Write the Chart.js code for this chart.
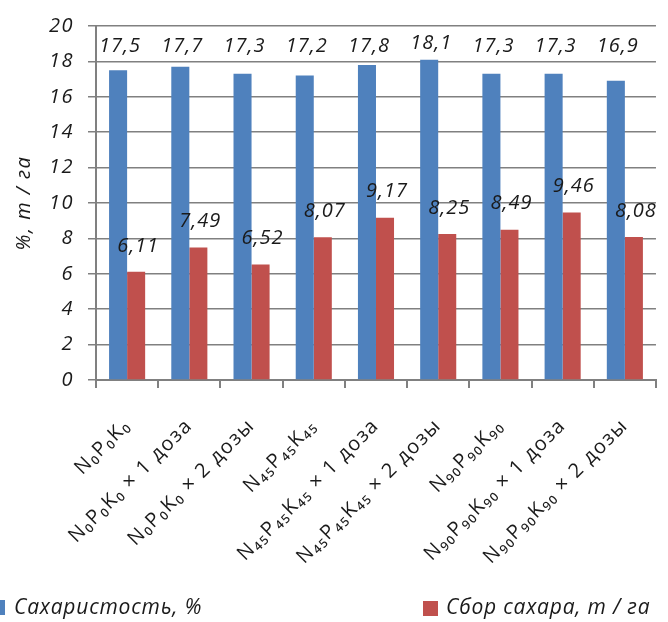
<!DOCTYPE html>
<html>
<head>
<meta charset="utf-8">
<script src="https://cdn.jsdelivr.net/npm/chart.js@4/dist/chart.umd.min.js"></script>
<style>
  html, body { margin: 0; padding: 0; background: #fff; }
  #wrap { width: 668px; height: 622px; position: relative; }
</style>
</head>
<body>
<div id="wrap"><canvas id="sugarChart"></canvas></div>
<script>
// Данные
const categories = [
  'N₀P₀K₀',
  'N₀P₀K₀ × 1 доза',
  'N₀P₀K₀ × 2 дозы',
  'N₄₅P₄₅K₄₅',
  'N₄₅P₄₅K₄₅ × 1 доза',
  'N₄₅P₄₅K₄₅ × 2 дозы',
  'N₉₀P₉₀K₉₀',
  'N₉₀P₉₀K₉₀ × 1 доза',
  'N₉₀P₉₀K₉₀ × 2 дозы'
];
const sugarContent = [17.5, 17.7, 17.3, 17.2, 17.8, 18.1, 17.3, 17.3, 16.9];
const sugarYield = [6.11, 7.49, 6.52, 8.07, 9.17, 8.25, 8.49, 9.46, 8.08];
const yTicks = [0, 2, 4, 6, 8, 10, 12, 14, 16, 18, 20];
const seriesNames = ['Сахаристость, %', 'Сбор сахара, т / га'];

const BLUE = '#4f81bd';
const RED = '#c0504d';
const GRID = '#808080';
const TEXT = '#1a1a1a';
const FONT = '"Open Sans", "DejaVu Sans", sans-serif';

// межбуквенный интервал для всего текста на холсте
const spacingPlugin = {
  id: 'spacing',
  beforeLayout(chart) { chart.ctx.letterSpacing = '1.5px'; },
  beforeDraw(chart) { chart.ctx.letterSpacing = '1.5px'; }
};

// подписи значений над столбцами
const valueLabels = {
  id: 'valueLabels',
  afterDatasetsDraw(chart) {
    const ctx = chart.ctx;
    const y = chart.scales.y;
    ctx.save();
    ctx.letterSpacing = '1px';
    ctx.font = 'italic 20px ' + FONT;
    ctx.fillStyle = TEXT;
    ctx.textAlign = 'center';
    ctx.textBaseline = 'middle';
    chart.data.datasets.forEach((ds, di) => {
      chart.getDatasetMeta(di).data.forEach((bar, i) => {
        const txt = ds.data[i].toFixed(di === 0 ? 1 : 2).replace('.', ',');
        let ty;
        if (di === 0) {
          ty = Math.min(y.getPixelForValue(18.85), bar.y - 16);
        } else {
          ty = bar.y - 26;
        }
        ctx.fillText(txt, bar.x + 2, ty);
      });
    });
    ctx.restore();
  }
};

// легенда внизу
const bottomLegend = {
  id: 'bottomLegend',
  afterDraw(chart) {
    const ctx = chart.ctx;
    ctx.save();
    ctx.letterSpacing = '0.8px';
    ctx.font = 'italic 21px ' + FONT;
    ctx.textBaseline = 'middle';
    const ly = 608;
    ctx.fillStyle = BLUE;
    ctx.fillRect(-10, ly - 8, 15, 15);
    ctx.fillStyle = TEXT;
    ctx.fillText(seriesNames[0], 14, ly);
    ctx.fillStyle = RED;
    ctx.fillRect(423, ly - 7, 15, 15);
    ctx.fillStyle = TEXT;
    ctx.fillText(seriesNames[1], 446, ly);
    ctx.restore();
  }
};

const ctx = document.getElementById('sugarChart').getContext('2d');
new Chart(ctx, {
  type: 'bar',
  data: {
    labels: categories,
    datasets: [
      { label: seriesNames[0], data: sugarContent, backgroundColor: BLUE },
      { label: seriesNames[1], data: sugarYield, backgroundColor: RED }
    ]
  },
  plugins: [spacingPlugin, valueLabels, bottomLegend],
  options: {
    responsive: true,
    maintainAspectRatio: false,
    animation: false,
    layout: { padding: { top: 22, right: 3, left: 0, bottom: 0 } },
    datasets: {
      bar: { categoryPercentage: 0.58, barPercentage: 1.0, borderWidth: 0 }
    },
    scales: {
      x: {
        afterFit(scale) { scale.height = 242; },
        grid: { offset: true, drawOnChartArea: false, drawTicks: true, tickLength: 8, color: GRID, lineWidth: 2 },
        border: { color: GRID, width: 2 },
        ticks: {
          autoSkip: false,
          minRotation: 45,
          maxRotation: 45,
          padding: 26,
          color: TEXT,
          font: { family: FONT, size: 20 }
        }
      },
      y: {
        min: 0,
        max: 20,
        afterFit(scale) { scale.width = 96; },
        afterBuildTicks(scale) { scale.ticks = yTicks.map(v => ({ value: v })); },
        grid: { color: GRID, lineWidth: 1.5, tickLength: 8 },
        border: { color: GRID, width: 2 },
        ticks: {
          padding: 14,
          color: TEXT,
          font: { family: FONT, size: 20, style: 'italic' }
        },
        title: {
          display: true,
          text: '%, т / га',
          color: TEXT,
          padding: { top: 12, bottom: 0 },
          font: { family: FONT, size: 20, style: 'italic' }
        }
      }
    },
    plugins: {
      legend: { display: false },
      tooltip: { enabled: false }
    }
  }
});
</script>
</body>
</html>
